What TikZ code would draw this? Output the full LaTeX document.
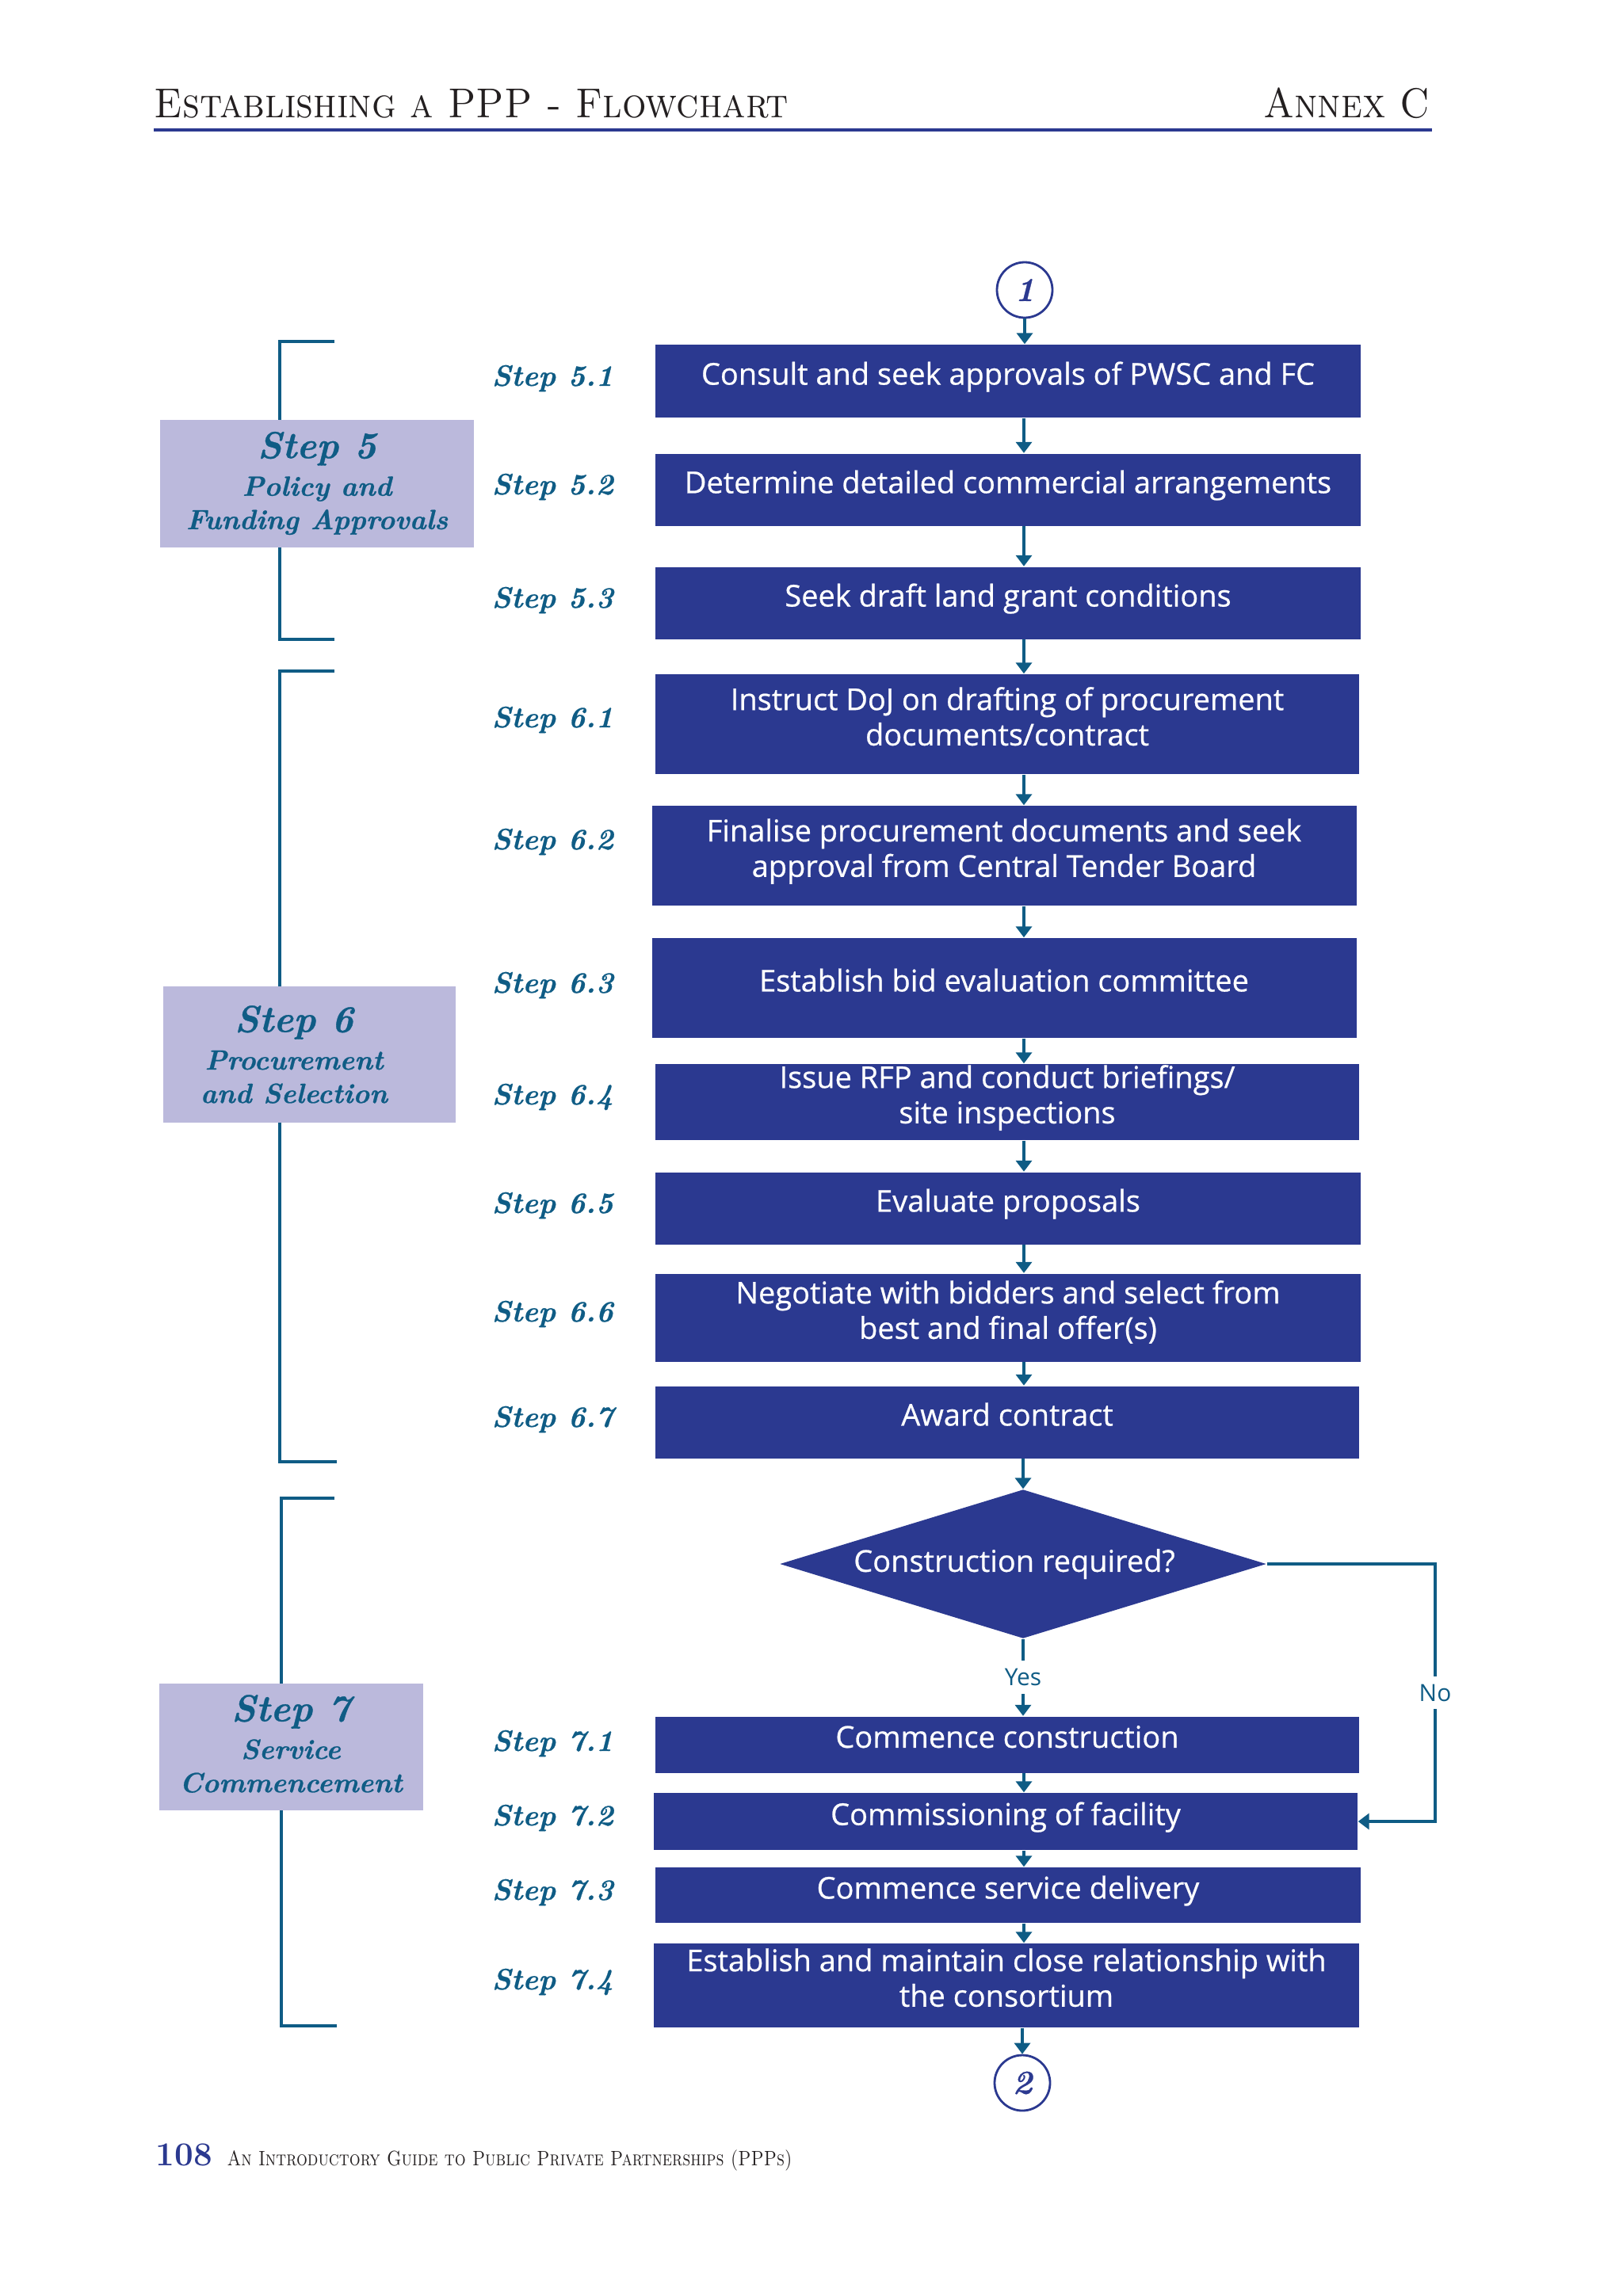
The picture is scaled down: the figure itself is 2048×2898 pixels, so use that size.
\documentclass[tikz,border=0pt]{standalone}
\usepackage{fontspec}
\newfontfamily\boxfont{Open Sans}[FakeBold=0.6]
\newfontfamily\answerfont{Open Sans}
\newfontfamily\stepfont{Latin Modern Roman}[FakeBold=0.7]
\usetikzlibrary{calc, positioning}
\usetikzlibrary{arrows.meta}
\usetikzlibrary{shapes.geometric}
\definecolor{pppblue}{HTML}{2B3990}
\definecolor{ppplav}{HTML}{BBB9DC}
\definecolor{pppteal}{HTML}{0F5C85}
\definecolor{pppink}{HTML}{231F20}
\def\lw{0.4mm}
\tikzset{
    stepbox/.style = {
        fill=pppblue, text=white, align=center, inner sep=0pt, text depth=2mm,
        font=\boxfont\fontsize{10.8}{12.7}\selectfont
    },
    steplabel/.style = {
        anchor=base west, text=pppteal, inner sep=0pt,
        font=\stepfont\fontsize{10.6}{13}\selectfont\bfseries\itshape
    },
    groupbox/.style = {fill=ppplav, inner sep=0pt},
    grouptext/.style = {
        text=pppteal, align=center, inner sep=0pt,
        font=\stepfont\fontsize{10}{12}\selectfont\bfseries\itshape
    },
    decision/.style = {
        diamond, fill=pppblue, text=white, inner sep=0pt, aspect=3.27,
        minimum width=61.4mm, minimum height=18.8mm,
        font=\boxfont\fontsize{10.8}{12.7}\selectfont
    },
    pageref/.style = {
        circle, draw=pppblue, fill=white, line width=0.28mm, minimum size=7mm,
        inner sep=0pt, text=pppblue, font=\stepfont\fontsize{12}{14}\selectfont\bfseries\itshape
    },
    answer/.style = {
        fill=white, text=pppteal, inner sep=1mm, font=\answerfont\fontsize{8.5}{10}\selectfont
    },
    conn/.style = {
        draw=pppteal, line width=\lw, -{Triangle[width=2mm,length=1.4mm]}
    },
    bracket/.style = {draw=pppteal, line width=0.35mm}
}

\begin{document}
\begin{tikzpicture}[x=0.1mm, y=-0.1mm]
    \useasboundingbox (0,0) rectangle (2048,2898);

    % header and footer
    \node[anchor=base west, xscale=0.91, text=pppink, inner sep=0pt, font=\fontsize{15}{18}\selectfont\scshape] (title) at (194,148) {Establishing a PPP - Flowchart};
    \node[anchor=base east, xscale=0.91, text=pppink, inner sep=0pt, font=\fontsize{15}{18}\selectfont\scshape] (annex) at (1805,148) {Annex C};
    \draw[pppblue, line width=0.45mm] (194,164) -- (1807,164);
    \node[anchor=base west, text=pppblue, inner sep=0pt, font=\fontsize{12}{14}\selectfont\bfseries] (pnum) at (196,2733) {108};
    \node[anchor=base west, xscale=0.83, text=pppink, inner sep=0pt, font=\fontsize{7.5}{9}\selectfont\scshape] (guide) at (286,2733) {An Introductory Guide to Public Private Partnerships (PPPs)};

    % brackets
    \draw[bracket] (422,431) -- (353,431) -- (353,807) -- (422,807);
    \draw[bracket] (422,847) -- (353,847) -- (353,1845) -- (425,1845);
    \draw[bracket] (422,1891) -- (355,1891) -- (355,2557) -- (425,2557);

    \node[groupbox, minimum width=39.6mm, minimum height=16.1mm] (g5) at (400,610) {};
    \node[grouptext] (t5) at (g5.center)
        {{\fontsize{13.5}{16}\selectfont Step 5}\\[1.5pt] Policy and\\ Funding Approvals};
    \node[groupbox, minimum width=36.9mm, minimum height=17.2mm] (g6) at (390,1331) {};
    \node[grouptext] (t6) at ([xshift=-1.9mm]g6.center)
        {{\fontsize{13.5}{16}\selectfont Step 6}\\[1.5pt] Procurement\\ and Selection};
    \node[groupbox, minimum width=33.3mm, minimum height=16mm] (g7) at (367,2205) {};
    \node[grouptext] (t7) at ([yshift=0.4mm]g7.center)
        {{\fontsize{13.5}{16}\selectfont Step 7}\\[1.5pt] Service\\ Commencement};

    % step labels
    \foreach \n/\yb in {5.1/487, 5.2/624, 5.3/767, 6.1/918, 6.2/1072, 6.3/1253, 6.4/1394,
                        6.5/1531, 6.6/1668, 6.7/1801, 7.1/2210, 7.2/2304, 7.3/2398, 7.4/2511}
        \node[steplabel] (l\n) at (620,\yb) {Step \n};

    % flow
    \node[pageref] (c1) at (1293,366) {1};
    \node[stepbox, minimum width=89mm, minimum height=9.2mm] (s51) at (1272,481) {Consult and seek approvals of PWSC and FC};
    \node[stepbox, minimum width=89mm, minimum height=9.1mm] (s52) at (1272,618) {Determine detailed commercial arrangements};
    \node[stepbox, minimum width=89mm, minimum height=9.1mm] (s53) at (1272,761) {Seek draft land grant conditions};
    \node[stepbox, minimum width=88.8mm, minimum height=12.6mm] (s61) at (1271,914) {Instruct DoJ on drafting of procurement\\documents/contract};
    \node[stepbox, minimum width=88.9mm, minimum height=12.6mm] (s62) at (1267,1080) {Finalise procurement documents and seek\\approval from Central Tender Board};
    \node[stepbox, minimum width=88.9mm, minimum height=12.6mm] (s63) at (1267,1247) {Establish bid evaluation committee};
    \node[stepbox, minimum width=88.8mm, minimum height=9.6mm] (s64) at (1271,1391) {Issue RFP and conduct briefings/\\site inspections};
    \node[stepbox, minimum width=89mm, minimum height=9.1mm] (s65) at (1272,1525) {Evaluate proposals};
    \node[stepbox, minimum width=89mm, minimum height=11.1mm] (s66) at (1272,1663) {Negotiate with bidders and select from\\best and final offer(s)};
    \node[stepbox, minimum width=88.8mm, minimum height=9.1mm] (s67) at (1271,1795) {Award contract};
    \node[decision] (dq) at (1291,1974) {Construction required?\hspace*{2.2mm}};
    \node[stepbox, minimum width=88.8mm, minimum height=7.1mm] (s71) at (1271,2202) {Commence construction};
    \node[stepbox, minimum width=88.8mm, minimum height=7.2mm] (s72) at (1269,2299) {Commissioning of facility};
    \node[stepbox, minimum width=89mm, minimum height=7mm] (s73) at (1272,2392) {Commence service delivery};
    \node[stepbox, minimum width=89mm, minimum height=10.6mm] (s74) at (1270,2506) {Establish and maintain close relationship with\\the consortium};
    \node[pageref] (c2) at (1290,2629) {2};

    \coordinate (ax) at (1292,0);
    \coordinate (nx) at (1811,0);

    \draw[conn] (c1.south) -- (s51.north -| c1);
    \foreach \a/\b in {s51/s52, s52/s53, s53/s61, s61/s62, s62/s63, s63/s64, s64/s65,
                       s65/s66, s66/s67, s71/s72, s72/s73, s73/s74}
        \draw[conn] (\a.south -| ax) -- (\b.north -| ax);
    \draw[conn] (s67.south -| dq) -- (dq.north);
    \draw[conn] (dq.south) -- node[answer] {Yes} (s71.north -| dq);
    \draw[conn] (dq.east) -- (dq.east -| nx) -- node[answer] {No} (s72.east -| nx) -- (s72.east);
    \draw[conn] (s74.south -| c2) -- (c2.north);
\end{tikzpicture}
\end{document}
